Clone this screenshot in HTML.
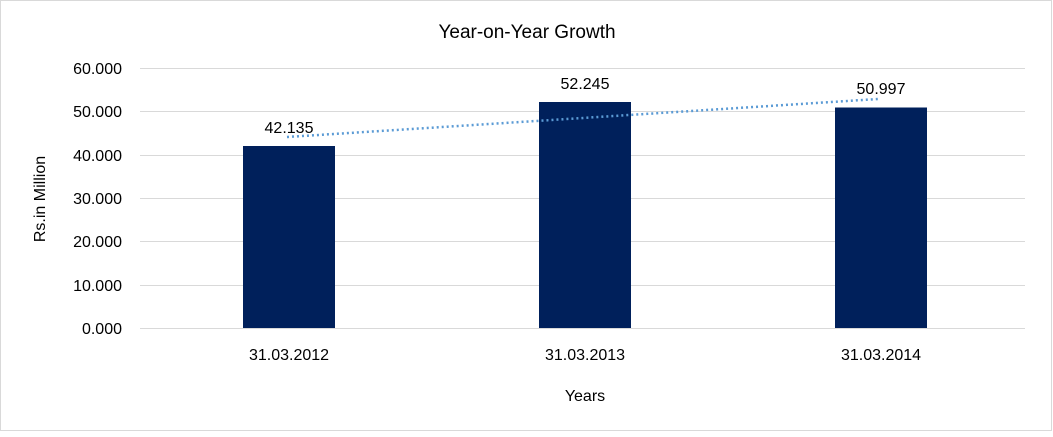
<!DOCTYPE html><html><head><style>body{margin:0;background:#fff}</style></head><body>
<svg width="1053" height="432" xmlns="http://www.w3.org/2000/svg" font-family="Liberation Sans, sans-serif">
<rect x="0.5" y="0.5" width="1051" height="430" fill="#fff" stroke="#d9d9d9"/>
<text x="527" y="38" font-size="19" text-anchor="middle" fill="#000">Year-on-Year Growth</text>
<g stroke="#d9d9d9" stroke-width="1">
<line x1="140" x2="1025" y1="68.5" y2="68.5"/><line x1="140" x2="1025" y1="111.5" y2="111.5"/><line x1="140" x2="1025" y1="155.5" y2="155.5"/><line x1="140" x2="1025" y1="198.5" y2="198.5"/><line x1="140" x2="1025" y1="241.5" y2="241.5"/><line x1="140" x2="1025" y1="285.5" y2="285.5"/><line x1="140" x2="1025" y1="328.5" y2="328.5"/>
</g>
<g font-size="16" text-anchor="end" fill="#000">
<text x="122" y="74">60.000</text><text x="122" y="117">50.000</text><text x="122" y="161">40.000</text><text x="122" y="204">30.000</text><text x="122" y="247">20.000</text><text x="122" y="291">10.000</text><text x="122" y="334">0.000</text>
</g>
<text transform="translate(45,199) rotate(-90)" font-size="16" text-anchor="middle">Rs.in Million</text>
<g fill="#00205b">
<rect x="243" y="146" width="92" height="182"/><rect x="539" y="102" width="92" height="226"/><rect x="835" y="107.5" width="92" height="220.5"/>
</g>
<line x1="287" y1="137" x2="878" y2="99" stroke="#5b9bd5" stroke-width="2.5" stroke-dasharray="2 3"/>
<g font-size="16" text-anchor="middle">
<text x="289" y="133">42.135</text><text x="585" y="89">52.245</text><text x="881" y="94">50.997</text>
<text x="289" y="360">31.03.2012</text><text x="585" y="360">31.03.2013</text><text x="881" y="360">31.03.2014</text>
<text x="585" y="401">Years</text>
</g>
</svg></body></html>
